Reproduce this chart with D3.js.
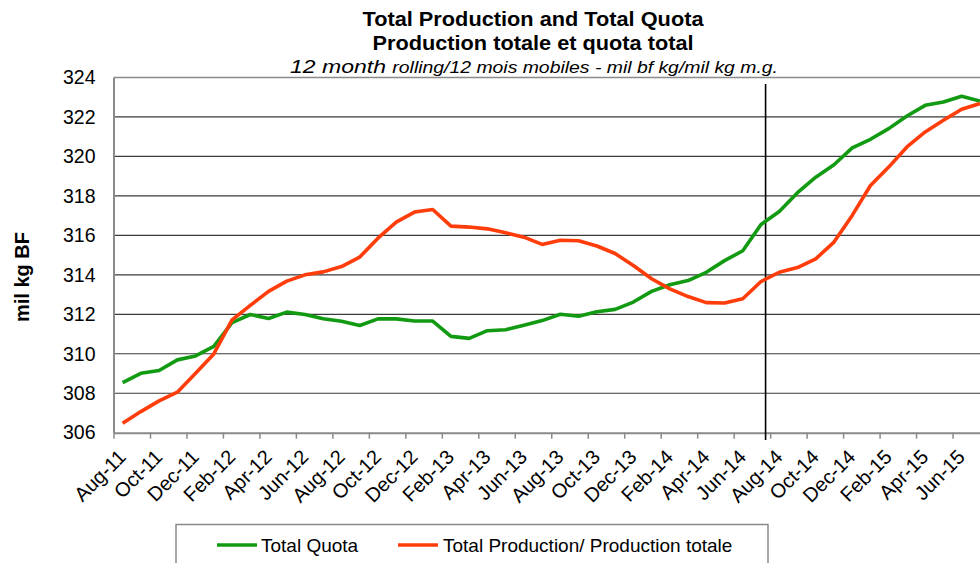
<!DOCTYPE html>
<html>
<head>
<meta charset="utf-8">
<script src="https://cdn.jsdelivr.net/npm/d3@7"></script>
<style>
  html, body { margin: 0; padding: 0; background: #fff; }
  svg { display: block; font-family: "Liberation Sans", Arial, sans-serif; }
</style>
</head>
<body>
<svg id="chart" width="980" height="563"></svg>
<script>
// ---- data ----
const months = [
  "Aug-11","Sep-11","Oct-11","Nov-11","Dec-11","Jan-12","Feb-12","Mar-12","Apr-12","May-12","Jun-12","Jul-12",
  "Aug-12","Sep-12","Oct-12","Nov-12","Dec-12","Jan-13","Feb-13","Mar-13","Apr-13","May-13","Jun-13","Jul-13",
  "Aug-13","Sep-13","Oct-13","Nov-13","Dec-13","Jan-14","Feb-14","Mar-14","Apr-14","May-14","Jun-14","Jul-14",
  "Aug-14","Sep-14","Oct-14","Nov-14","Dec-14","Jan-15","Feb-15","Mar-15","Apr-15","May-15","Jun-15","Jul-15"
];
const totalQuota = [
  308.54,309.01,309.15,309.69,309.89,310.37,311.58,311.99,311.79,312.11,311.99,311.77,
  311.65,311.43,311.77,311.77,311.66,311.66,310.88,310.78,311.17,311.22,311.45,311.68,
  312.00,311.90,312.13,312.25,312.62,313.16,313.50,313.71,314.13,314.72,315.22,316.55,
  317.21,318.16,318.95,319.58,320.43,320.87,321.41,322.05,322.59,322.76,323.05,322.81
];
const totalProduction = [
  306.48,307.07,307.61,308.05,309.01,309.99,311.72,312.45,313.16,313.68,314.00,314.15,
  314.42,314.90,315.86,316.67,317.18,317.31,316.47,316.42,316.33,316.13,315.91,315.54,
  315.75,315.73,315.46,315.08,314.47,313.80,313.29,312.90,312.59,312.57,312.79,313.66,
  314.13,314.37,314.81,315.66,317.01,318.53,319.46,320.48,321.24,321.83,322.39,322.68
];
const yTicks = [306,308,310,312,314,316,318,320,322,324];
const markerIndex = 35.25; // vertical divider between Jul-14 and Aug-14
const seriesNames = ["Total Quota", "Total Production/ Production totale"];
const seriesColors = ["#129a12", "#ff3d0a"];

// ---- layout ----
const svg = d3.select("#chart");
const L = 113.5, T = 77.5, B = 432.7;
const step = 18.24;
const R = L + months.length * step;

const x = d3.scaleLinear().domain([-0.5, months.length - 0.5]).range([L, R]);
const y = d3.scaleLinear().domain([306, 324]).range([B, T]);

// gridlines
svg.append("g")
  .selectAll("line").data(yTicks.filter(v => v > 306 && v < 324)).join("line")
  .attr("x1", L).attr("x2", R)
  .attr("y1", d => y(d)).attr("y2", d => y(d))
  .attr("stroke", "#3a3a3a").attr("stroke-width", 1.2);

// top border line
svg.append("line").attr("x1", L).attr("x2", R).attr("y1", y(324)).attr("y2", y(324))
  .attr("stroke", "#8a8a8a").attr("stroke-width", 1.5);

// y axis
const yAxis = svg.append("g").attr("transform", `translate(${L},0)`)
  .call(d3.axisLeft(y).tickValues(yTicks).tickSize(0).tickPadding(18).tickFormat(d3.format("d")));
yAxis.select(".domain").attr("stroke", "#8a8a8a").attr("stroke-width", 2);
yAxis.selectAll("text").attr("font-size", 19.5).attr("fill", "#000")
  .attr("font-family", "'Liberation Sans', Arial, sans-serif");

// x axis tick marks at boundaries every 2 months
const boundaryTicks = d3.range(-0.5, months.length - 0.5, 2);
const xAxis = svg.append("g").attr("transform", `translate(0,${B})`)
  .call(d3.axisBottom(x).tickValues(boundaryTicks).tickSize(6).tickSizeOuter(0).tickFormat(""));
xAxis.select(".domain").attr("stroke", "#8a8a8a").attr("stroke-width", 2);
xAxis.selectAll(".tick line").attr("stroke", "#8a8a8a").attr("stroke-width", 1.5);

// x labels
const labelIdx = d3.range(0, months.length, 2);
const xLab = svg.append("g").attr("transform", `translate(0,${B})`)
  .call(d3.axisBottom(x).tickValues(labelIdx).tickSize(0).tickFormat(i => months[i]));
xLab.select(".domain").remove();
xLab.selectAll("text")
  .attr("font-size", 20).attr("fill", "#000")
  .attr("font-family", "'Liberation Sans', Arial, sans-serif")
  .attr("text-anchor", "end")
  .attr("y", 0).attr("dy", 0)
  .attr("transform", "translate(4,25.5) rotate(-45)");

// vertical marker line
svg.append("line")
  .attr("x1", x(markerIndex)).attr("x2", x(markerIndex))
  .attr("y1", 84).attr("y2", 440)
  .attr("stroke", "#000").attr("stroke-width", 1.6);

// lines
const line = d3.line().x((d, i) => x(i)).y(d => y(d));
[totalQuota, totalProduction].forEach((s, k) => {
  svg.append("path").datum(s)
    .attr("fill", "none").attr("stroke", seriesColors[k])
    .attr("stroke-width", 3.6).attr("stroke-linejoin", "round")
    .attr("d", line);
});

// titles
const titles = svg.append("g").attr("text-anchor", "middle");
titles.append("text").attr("x", 533).attr("y", 26)
  .attr("font-size", 21).attr("font-weight", "bold")
  .attr("textLength", 341).attr("lengthAdjust", "spacingAndGlyphs")
  .text("Total Production and Total Quota");
titles.append("text").attr("x", 533).attr("y", 50)
  .attr("font-size", 21).attr("font-weight", "bold")
  .attr("textLength", 321).attr("lengthAdjust", "spacingAndGlyphs")
  .text("Production totale et quota total");
const sub = titles.append("text").attr("x", 534).attr("y", 73)
  .attr("font-style", "italic")
  .attr("textLength", 488).attr("lengthAdjust", "spacingAndGlyphs");
sub.append("tspan").attr("font-size", 19).text("12 month ");
sub.append("tspan").attr("font-size", 16).text("rolling/12 mois mobiles - mil bf kg/mil kg m.g.");

// y axis title
svg.append("text")
  .attr("transform", "translate(29,277) rotate(-90)")
  .attr("text-anchor", "middle")
  .attr("font-size", 20).attr("font-weight", "bold")
  .text("mil kg BF");

// legend
const lg = svg.append("g");
lg.append("rect").attr("x", 176).attr("y", 524.5).attr("width", 592).attr("height", 60)
  .attr("fill", "#fff").attr("stroke", "#8a8a8a").attr("stroke-width", 1.5);
const legendItems = [{x0: 217, tx: 261}, {x0: 398, tx: 443}];
legendItems.forEach((it, k) => {
  lg.append("line").attr("x1", it.x0).attr("x2", it.x0 + 40).attr("y1", 545).attr("y2", 545)
    .attr("stroke", seriesColors[k]).attr("stroke-width", 3.6);
  lg.append("text").attr("x", it.tx).attr("y", 551.5)
    .attr("font-size", 19).text(seriesNames[k]);
});
</script>
</body>
</html>
